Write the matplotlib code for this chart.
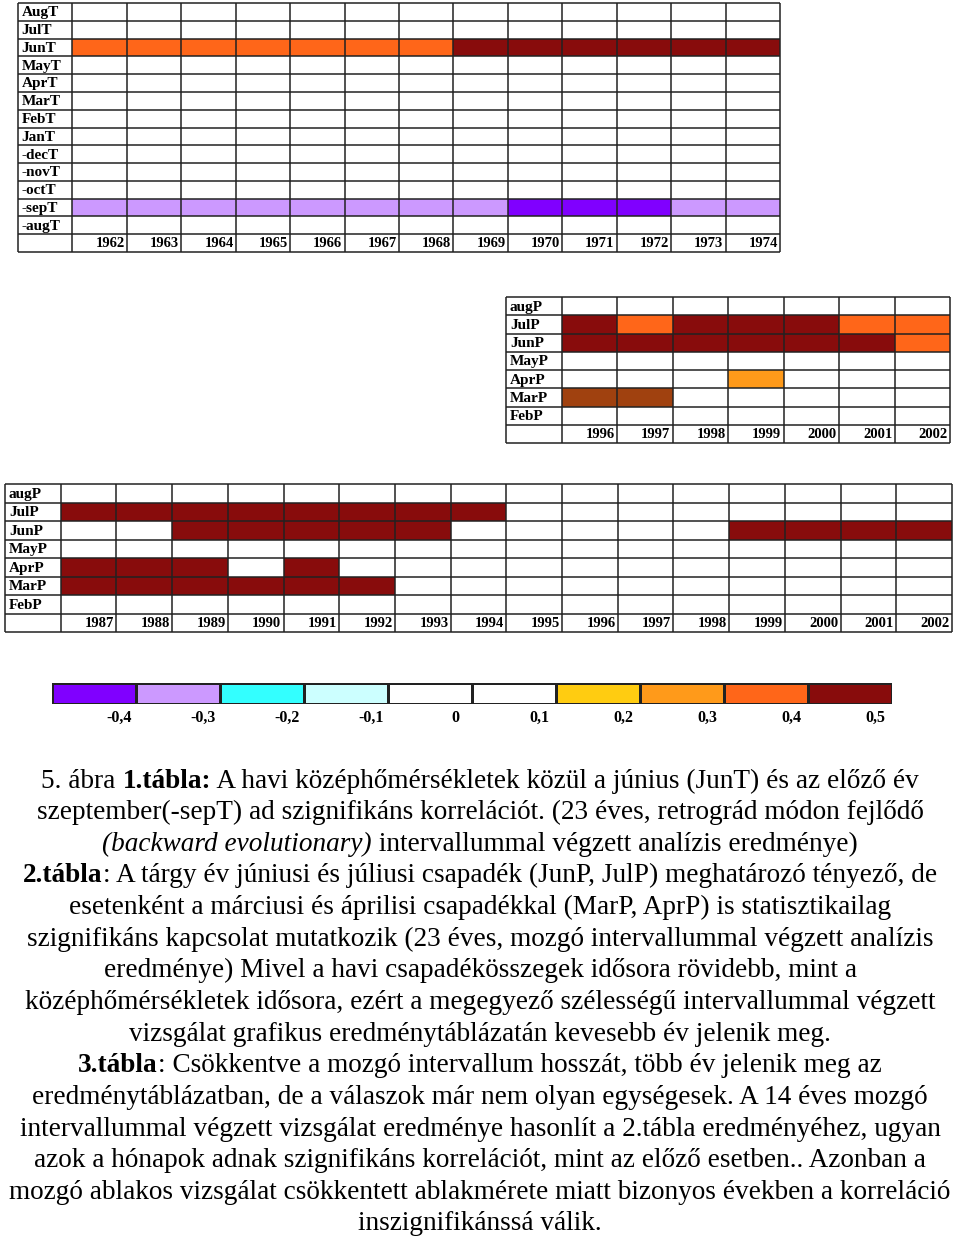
import numpy as np
import matplotlib
matplotlib.use("Agg")
import matplotlib.pyplot as plt
from matplotlib.colors import ListedColormap, BoundaryNorm

plt.rcParams['font.family'] = ['Liberation Serif', 'DejaVu Serif']

# colour scale (correlation classes)
levels = [-0.4, -0.3, -0.2, -0.1, 0.0, 0.1, 0.2, 0.3, 0.4, 0.5, 0.45]
level_labels = ["-0,4", "-0,3", "-0,2", "-0,1", "0", "0,1", "0,2", "0,3", "0,4", "0,5"]
level_colors = ["#8000ff", "#cc99ff", "#33ffff", "#ccffff", "#ffffff", "#ffffff",
                "#ffcc11", "#ff9a1a", "#ff6619", "#880c0c",
                "#a0410f"]  # last one: brown shade in table 2 (not in the legend)

# 1. tabla
t1_years = list(range(1962, 1975))
t1_rows = ["AugT", "JulT", "JunT", "MayT", "AprT", "MarT", "FebT", "JanT",
           "-decT", "-novT", "-octT", "-sepT", "-augT"]
t1_cells = {
    "JunT": [0.4, 0.4, 0.4, 0.4, 0.4, 0.4, 0.4, 0.5, 0.5, 0.5, 0.5, 0.5, 0.5],
    "-sepT": [-0.3, -0.3, -0.3, -0.3, -0.3, -0.3, -0.3, -0.3, -0.4, -0.4, -0.4, -0.3, -0.3],
}

# 2. tabla
t2_years = list(range(1996, 2003))
t2_rows = ["augP", "JulP", "JunP", "MayP", "AprP", "MarP", "FebP"]
t2_cells = {
    "JulP": [0.5, 0.4, 0.5, 0.5, 0.5, 0.4, 0.4],
    "JunP": [0.5, 0.5, 0.5, 0.5, 0.5, 0.5, 0.4],
    "AprP": [None, None, None, 0.3, None, None, None],
    "MarP": [0.45, 0.45, None, None, None, None, None],
}

# 3. tabla
t3_years = list(range(1987, 2003))
t3_rows = ["augP", "JulP", "JunP", "MayP", "AprP", "MarP", "FebP"]
t3_cells = {
    "JulP": [0.5, 0.5, 0.5, 0.5, 0.5, 0.5, 0.5, 0.5, None, None, None, None, None, None, None, None],
    "JunP": [None, None, 0.5, 0.5, 0.5, 0.5, 0.5, None, None, None, None, None, 0.5, 0.5, 0.5, 0.5],
    "AprP": [0.5, 0.5, 0.5, None, 0.5, None, None, None, None, None, None, None, None, None, None, None],
    "MarP": [0.5, 0.5, 0.5, 0.5, 0.5, 0.5, None, None, None, None, None, None, None, None, None, None],
}

W, H = 960, 1237
fig = plt.figure(figsize=(W / 100, H / 100), dpi=100)
cmap = ListedColormap(level_colors)
norm = BoundaryNorm(np.arange(-0.5, len(level_colors) + 0.5), len(level_colors))


def px_axes(left, top, right, bottom):
    return fig.add_axes([left / W, 1 - bottom / H, (right - left) / W, (bottom - top) / H])


def table(box, rows, years, cells):
    ax = px_axes(*box)
    nr, nc = len(rows), len(years)
    grid = np.full((nr, nc), np.nan)
    for name, vals in cells.items():
        r = rows.index(name)
        for c, v in enumerate(vals):
            if v is not None:
                grid[r, c] = levels.index(v)
    ax.pcolormesh(np.arange(nc + 1), np.arange(nr + 1), np.ma.masked_invalid(grid),
                  cmap=cmap, norm=norm)
    ax.set_xlim(-1, nc)
    ax.set_ylim(nr + 1, 0)
    ax.axis('off')
    ax.hlines(np.arange(nr + 2), -1, nc, colors="#222222", lw=1.1, clip_on=False)
    ax.vlines(np.arange(-1, nc + 1), 0, nr + 1, colors="#222222", lw=1.1, clip_on=False)
    for i, name in enumerate(rows):
        ax.text(-0.93, i + 0.55, name, ha='left', va='center', fontsize=11,
                fontweight='bold')
    for j, yr in enumerate(years):
        ax.text(j + 0.96, nr + 0.55, str(yr), ha='right', va='center', fontsize=10.5,
                fontweight='bold')


table((18, 3, 780, 252), t1_rows, t1_years, t1_cells)
table((506, 297, 950, 443), t2_rows, t2_years, t2_cells)
table((5, 484, 952, 632), t3_rows, t3_years, t3_cells)

# legend bar
cax = px_axes(52, 683, 892, 704)
nl = len(level_labels)
cax.pcolormesh(np.arange(nl + 1), [0, 1], np.arange(nl)[None, :], cmap=cmap, norm=norm,
               edgecolors="#222222", linewidth=0.8)
cax.set_xlim(0, nl)
cax.set_ylim(1, 0)
cax.axis('off')
for i, lab in enumerate(level_labels):
    cax.text(i + 0.8, 1.68, lab, ha='center', va='center', fontsize=11.5,
             fontweight='bold')

# caption text
lines = [
    [("5. ábra ", "normal", "normal"), ("1.tábla:", "bold", "normal"),
     (" A havi középhőmérsékletek közül a június (JunT) és az előző év", "normal", "normal")],
    [("szeptember(-sepT) ad szignifikáns korrelációt. (23 éves, retrográd módon fejlődő", "normal", "normal")],
    [("(backward evolutionary)", "normal", "italic"),
     (" intervallummal végzett analízis eredménye)", "normal", "normal")],
    [("2.tábla", "bold", "normal"),
     (": A tárgy év júniusi és júliusi csapadék (JunP, JulP) meghatározó tényező, de", "normal", "normal")],
    [("esetenként a márciusi és áprilisi csapadékkal (MarP, AprP) is statisztikailag", "normal", "normal")],
    [("szignifikáns kapcsolat mutatkozik (23 éves, mozgó intervallummal végzett analízis", "normal", "normal")],
    [("eredménye) Mivel a havi csapadékösszegek idősora rövidebb, mint a", "normal", "normal")],
    [("középhőmérsékletek idősora, ezért a megegyező szélességű intervallummal végzett", "normal", "normal")],
    [("vizsgálat grafikus eredménytáblázatán kevesebb év jelenik meg.", "normal", "normal")],
    [("3.tábla", "bold", "normal"),
     (": Csökkentve a mozgó intervallum hosszát, több év jelenik meg az", "normal", "normal")],
    [("eredménytáblázatban, de a válaszok már nem olyan egységesek. A 14 éves mozgó", "normal", "normal")],
    [("intervallummal végzett vizsgálat eredménye hasonlít a 2.tábla eredményéhez, ugyan", "normal", "normal")],
    [("azok a hónapok adnak szignifikáns korrelációt, mint az előző esetben.. Azonban a", "normal", "normal")],
    [("mozgó ablakos vizsgálat csökkentett ablakmérete miatt bizonyos években a korreláció", "normal", "normal")],
    [("inszignifikánssá válik.", "normal", "normal")],
]

fs = 19.6
renderer = fig.canvas.get_renderer()


def seg_width(s, weight, style):
    t1 = fig.text(0, 0, "|" + s + "|", fontsize=fs, fontweight=weight, style=style)
    t2 = fig.text(0, 0, "||", fontsize=fs, fontweight=weight, style=style)
    w = t1.get_window_extent(renderer).width - t2.get_window_extent(renderer).width
    t1.remove()
    t2.remove()
    return w


for k, segs in enumerate(lines):
    yc = 778 + k * 31.64
    widths = [seg_width(*s) for s in segs]
    x = 480 - sum(widths) / 2
    for (s, weight, style), w in zip(segs, widths):
        fig.text(x / W, 1 - yc / H, s, fontsize=fs, fontweight=weight, style=style,
                 ha='left', va='center_baseline')
        x += w

fig.savefig("out.png", dpi=100)
